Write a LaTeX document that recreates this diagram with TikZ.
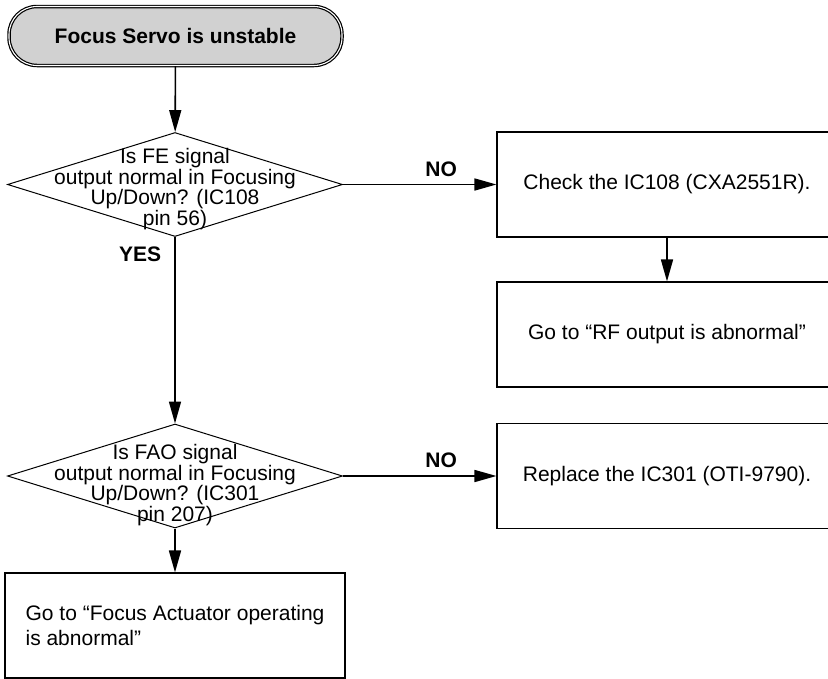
\documentclass[tikz,border=0pt]{standalone}
\usepackage{fontspec}
\setmainfont{Liberation Sans}
\usetikzlibrary{shapes.geometric,arrows.meta}

\begin{document}
\begin{tikzpicture}[x=1pt, y=-1pt,
    every node/.style={font=\fontsize{21}{25}\selectfont},
    terminal/.style={draw, line width=1.2pt, double=white, double distance=1.1pt,
        fill=black!18, rounded corners=28pt, minimum width=333pt, minimum height=59pt,
        font=\bfseries\fontsize{21}{25}\selectfont},
    decision/.style={draw, diamond, line width=1pt, minimum width=335pt, minimum height=104pt, inner sep=0pt},
    qtext/.style={align=center, inner sep=0pt, font=\fontsize{21}{17.5}\selectfont},
    actbox/.style={draw, line width=1.1pt, minimum width=340pt, minimum height=105pt},
    flow/.style={line width=1.6pt, -{Triangle[length=22pt,width=12pt]}},
    lbl/.style={inner sep=0pt, font=\bfseries\fontsize{21}{25}\selectfont}]

        \clip (0,0) rectangle (828,678);

        \node[terminal] (start) at (175.5,36) {Focus Servo is unstable};

        \node[decision] (q1) at (175,184.5) {};
        \node[qtext] (q1text) at (175,189) {Is FE signal\\output normal in Focusing\\Up/Down? (IC108\\pin 56)};

        \node[actbox] (check) at (667,184.5) {Check the IC108 (CXA2551R).};
        \node[actbox] (rfout) at (667,334.5) {Go to “RF output is abnormal”};

        \node[decision] (q2) at (175,476) {};
        \node[qtext] (q2text) at (175,485) {Is FAO signal\\output normal in Focusing\\Up/Down? (IC301\\pin 207)};

        \node[actbox] (replace) at (667,476) {Replace the IC301 (OTI-9790).};
        \node[actbox, align=left] (actuator) at (175,625.5) {Go to “Focus Actuator operating\\is abnormal”};

        \draw[flow] (start) -- (q1);
        \draw[flow] (q1) -- node[lbl, above=7pt, pos=0.64] (no1) {NO} (check);
        \draw[flow] (check) -- (rfout);
        \draw[flow] (q1) -- node[lbl, left=13pt, pos=0.09] (yes1) {YES} (q2);
        \draw[flow] (q2) -- node[lbl, above=8pt, pos=0.64] (no2) {NO} (replace);
        \draw[flow] (q2) -- (actuator);
    \end{tikzpicture}
\end{document}
